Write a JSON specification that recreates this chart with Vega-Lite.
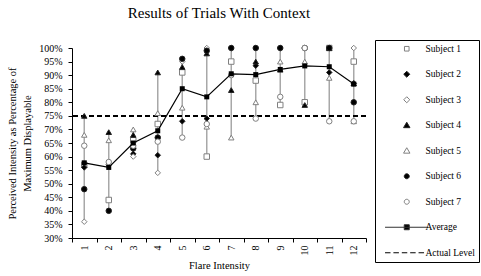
{
  "$schema": "https://vega.github.io/schema/vega-lite/v6.json",
  "width": 294,
  "height": 190,
  "autosize": "none",
  "padding": {"left": 72, "top": 48, "right": 115, "bottom": 38},
  "background": "white",
  "config": {"font": "Liberation Serif", "view": {"stroke": null}},
  "title": {"text": "Results of Trials With Context", "font": "Liberation Serif", "fontSize": 15, "fontWeight": "normal", "color": "black", "frame": "group", "anchor": "middle", "offset": 19},
  "data": {"values": [
    {"x":1,"s":"Subject 1","v":57},{"x":2,"s":"Subject 1","v":44},{"x":3,"s":"Subject 1","v":66},{"x":4,"s":"Subject 1","v":72},{"x":5,"s":"Subject 1","v":91},{"x":6,"s":"Subject 1","v":60},{"x":7,"s":"Subject 1","v":95},{"x":8,"s":"Subject 1","v":88},{"x":9,"s":"Subject 1","v":79},{"x":10,"s":"Subject 1","v":80},{"x":11,"s":"Subject 1","v":100},{"x":12,"s":"Subject 1","v":95},
    {"x":1,"s":"Subject 2","v":56},{"x":2,"s":"Subject 2","v":57},{"x":3,"s":"Subject 2","v":61},{"x":4,"s":"Subject 2","v":60.5},{"x":5,"s":"Subject 2","v":73},{"x":6,"s":"Subject 2","v":74},{"x":7,"s":"Subject 2","v":100},{"x":8,"s":"Subject 2","v":93.5},{"x":9,"s":"Subject 2","v":100},{"x":10,"s":"Subject 2","v":100},{"x":11,"s":"Subject 2","v":91},{"x":12,"s":"Subject 2","v":87},
    {"x":1,"s":"Subject 3","v":36},{"x":2,"s":"Subject 3","v":57},{"x":3,"s":"Subject 3","v":60},{"x":4,"s":"Subject 3","v":54},{"x":5,"s":"Subject 3","v":95},{"x":6,"s":"Subject 3","v":100},{"x":7,"s":"Subject 3","v":100},{"x":8,"s":"Subject 3","v":100},{"x":9,"s":"Subject 3","v":100},{"x":10,"s":"Subject 3","v":100},{"x":11,"s":"Subject 3","v":100},{"x":12,"s":"Subject 3","v":100},
    {"x":1,"s":"Subject 4","v":75},{"x":2,"s":"Subject 4","v":69},{"x":3,"s":"Subject 4","v":68},{"x":4,"s":"Subject 4","v":91},{"x":5,"s":"Subject 4","v":93},{"x":6,"s":"Subject 4","v":98},{"x":7,"s":"Subject 4","v":84.5},{"x":8,"s":"Subject 4","v":95},{"x":9,"s":"Subject 4","v":92},{"x":10,"s":"Subject 4","v":79},{"x":11,"s":"Subject 4","v":100},{"x":12,"s":"Subject 4","v":87},
    {"x":1,"s":"Subject 5","v":68},{"x":2,"s":"Subject 5","v":66},{"x":3,"s":"Subject 5","v":70},{"x":4,"s":"Subject 5","v":76},{"x":5,"s":"Subject 5","v":78},{"x":6,"s":"Subject 5","v":71},{"x":7,"s":"Subject 5","v":67},{"x":8,"s":"Subject 5","v":80},{"x":9,"s":"Subject 5","v":95},{"x":10,"s":"Subject 5","v":95},{"x":11,"s":"Subject 5","v":89},{"x":12,"s":"Subject 5","v":73},
    {"x":1,"s":"Subject 6","v":48},{"x":2,"s":"Subject 6","v":40},{"x":3,"s":"Subject 6","v":63},{"x":4,"s":"Subject 6","v":67},{"x":5,"s":"Subject 6","v":96},{"x":6,"s":"Subject 6","v":99},{"x":7,"s":"Subject 6","v":100},{"x":8,"s":"Subject 6","v":100},{"x":9,"s":"Subject 6","v":100},{"x":10,"s":"Subject 6","v":100},{"x":11,"s":"Subject 6","v":100},{"x":12,"s":"Subject 6","v":80},
    {"x":1,"s":"Subject 7","v":64},{"x":2,"s":"Subject 7","v":58},{"x":3,"s":"Subject 7","v":64},{"x":4,"s":"Subject 7","v":65.5},{"x":5,"s":"Subject 7","v":67},{"x":6,"s":"Subject 7","v":72},{"x":7,"s":"Subject 7","v":90},{"x":8,"s":"Subject 7","v":74},{"x":9,"s":"Subject 7","v":82},{"x":10,"s":"Subject 7","v":100},{"x":11,"s":"Subject 7","v":73},{"x":12,"s":"Subject 7","v":73},
    {"x":1,"s":"Average","v":57.7},{"x":2,"s":"Average","v":56},{"x":3,"s":"Average","v":65},{"x":4,"s":"Average","v":69.5},{"x":5,"s":"Average","v":85},{"x":6,"s":"Average","v":82},{"x":7,"s":"Average","v":90.5},{"x":8,"s":"Average","v":90.2},{"x":9,"s":"Average","v":92.1},{"x":10,"s":"Average","v":93.4},{"x":11,"s":"Average","v":93.1},{"x":12,"s":"Average","v":86.7}
  ]},
  "resolve": {"scale": {"shape": "independent", "fill": "independent", "stroke": "independent"}},
  "layer": [
    {
      "transform": [{"filter": "datum.s != 'Average'"}],
      "mark": {"type": "rule", "color": "#a8a8a8", "strokeWidth": 1.5},
      "encoding": {
        "x": {"field": "x", "type": "quantitative", "title": "Flare Intensity",
          "scale": {"domain": [0.5, 12.5], "nice": false, "zero": false},
          "axis": {"values": [0.5,1,1.5,2,2.5,3,3.5,4,4.5,5,5.5,6,6.5,7,7.5,8,8.5,9,9.5,10,10.5,11,11.5,12,12.5],
            "labelExpr": "datum.value % 1 == 0 ? '' + datum.value : ''",
            "tickOpacity": {"condition": {"test": "datum.value % 1 == 0", "value": 0}, "value": 1},
            "labelAngle": -90, "labelOverlap": false, "labelFlush": false, "grid": false,
            "tickSize": 4, "labelPadding": 3, "labelFontSize": 10, "labelFont": "Liberation Serif", "labelColor": "black",
            "domainColor": "black", "tickColor": "black",
            "titleFont": "Liberation Serif", "titleFontSize": 10.5, "titleFontWeight": "normal", "titleColor": "black", "titlePadding": 5}},
        "y": {"aggregate": "min", "field": "v", "type": "quantitative", "title": ["Perceived Intensity as Percentage of", "Maximum Displayable"],
          "scale": {"domain": [30, 100], "nice": false, "zero": false},
          "axis": {"values": [30,35,40,45,50,55,60,65,70,75,80,85,90,95,100],
            "labelExpr": "datum.value + '%'", "labelOverlap": false, "labelFlush": false, "grid": false, "tickSize": 4, "labelPadding": 6,
            "labelFontSize": 10, "labelFont": "Liberation Serif", "labelColor": "black",
            "domainColor": "black", "tickColor": "black",
            "titleFont": "Liberation Serif", "titleFontSize": 10.5, "titleFontWeight": "normal", "titleColor": "black", "titlePadding": 6, "titleLineHeight": 15}},
        "y2": {"aggregate": "max", "field": "v"}
      }
    },
    {
      "mark": {"type": "rule", "color": "black", "strokeWidth": 1, "strokeDash": [5, 3]},
      "encoding": {"y": {"datum": 75, "type": "quantitative", "title": ["Perceived Intensity as Percentage of", "Maximum Displayable"],
          "scale": {"domain": [30, 100], "nice": false, "zero": false},
          "axis": {"values": [30,35,40,45,50,55,60,65,70,75,80,85,90,95,100],
            "labelExpr": "datum.value + '%'", "labelOverlap": false, "labelFlush": false, "grid": false, "tickSize": 4, "labelPadding": 6,
            "labelFontSize": 10, "labelFont": "Liberation Serif", "labelColor": "black",
            "domainColor": "black", "tickColor": "black",
            "titleFont": "Liberation Serif", "titleFontSize": 10.5, "titleFontWeight": "normal", "titleColor": "black", "titlePadding": 6, "titleLineHeight": 15}}}
    },
    {
      "transform": [{"filter": "datum.s != 'Average'"}],
      "mark": {"type": "point", "filled": true, "opacity": 1, "size": 30, "strokeWidth": 1},
      "encoding": {
        "x": {"field": "x", "type": "quantitative", "title": "Flare Intensity",
          "scale": {"domain": [0.5, 12.5], "nice": false, "zero": false},
          "axis": {"values": [0.5,1,1.5,2,2.5,3,3.5,4,4.5,5,5.5,6,6.5,7,7.5,8,8.5,9,9.5,10,10.5,11,11.5,12,12.5],
            "labelExpr": "datum.value % 1 == 0 ? '' + datum.value : ''",
            "tickOpacity": {"condition": {"test": "datum.value % 1 == 0", "value": 0}, "value": 1},
            "labelAngle": -90, "labelOverlap": false, "labelFlush": false, "grid": false,
            "tickSize": 4, "labelPadding": 3, "labelFontSize": 10, "labelFont": "Liberation Serif", "labelColor": "black",
            "domainColor": "black", "tickColor": "black",
            "titleFont": "Liberation Serif", "titleFontSize": 10.5, "titleFontWeight": "normal", "titleColor": "black", "titlePadding": 5}},
        "y": {"field": "v", "type": "quantitative", "title": ["Perceived Intensity as Percentage of", "Maximum Displayable"],
          "scale": {"domain": [30, 100], "nice": false, "zero": false},
          "axis": {"values": [30,35,40,45,50,55,60,65,70,75,80,85,90,95,100],
            "labelExpr": "datum.value + '%'", "labelOverlap": false, "labelFlush": false, "grid": false, "tickSize": 4, "labelPadding": 6,
            "labelFontSize": 10, "labelFont": "Liberation Serif", "labelColor": "black",
            "domainColor": "black", "tickColor": "black",
            "titleFont": "Liberation Serif", "titleFontSize": 10.5, "titleFontWeight": "normal", "titleColor": "black", "titlePadding": 6, "titleLineHeight": 15}},
        "shape": {"field": "s", "type": "nominal", "legend": null,
          "scale": {"domain": ["Subject 1","Subject 2","Subject 3","Subject 4","Subject 5","Subject 6","Subject 7"],
            "range": ["square","diamond","diamond","triangle-up","triangle-up","circle","circle"]}},
        "fill": {"field": "s", "type": "nominal", "legend": null,
          "scale": {"domain": ["Subject 1","Subject 2","Subject 3","Subject 4","Subject 5","Subject 6","Subject 7"],
            "range": ["white","black","white","black","white","black","white"]}},
        "stroke": {"field": "s", "type": "nominal", "legend": null,
          "scale": {"domain": ["Subject 1","Subject 2","Subject 3","Subject 4","Subject 5","Subject 6","Subject 7"],
            "range": ["#808080","#222222","#808080","#222222","#808080","#222222","#808080"]}}
      }
    },
    {
      "transform": [{"filter": "datum.s == 'Average'"}],
      "mark": {"type": "line", "color": "black", "strokeWidth": 1.2},
      "encoding": {
        "x": {"field": "x", "type": "quantitative", "title": "Flare Intensity",
          "scale": {"domain": [0.5, 12.5], "nice": false, "zero": false},
          "axis": {"values": [0.5,1,1.5,2,2.5,3,3.5,4,4.5,5,5.5,6,6.5,7,7.5,8,8.5,9,9.5,10,10.5,11,11.5,12,12.5],
            "labelExpr": "datum.value % 1 == 0 ? '' + datum.value : ''",
            "tickOpacity": {"condition": {"test": "datum.value % 1 == 0", "value": 0}, "value": 1},
            "labelAngle": -90, "labelOverlap": false, "labelFlush": false, "grid": false,
            "tickSize": 4, "labelPadding": 3, "labelFontSize": 10, "labelFont": "Liberation Serif", "labelColor": "black",
            "domainColor": "black", "tickColor": "black",
            "titleFont": "Liberation Serif", "titleFontSize": 10.5, "titleFontWeight": "normal", "titleColor": "black", "titlePadding": 5}},
        "y": {"field": "v", "type": "quantitative", "title": ["Perceived Intensity as Percentage of", "Maximum Displayable"],
          "scale": {"domain": [30, 100], "nice": false, "zero": false},
          "axis": {"values": [30,35,40,45,50,55,60,65,70,75,80,85,90,95,100],
            "labelExpr": "datum.value + '%'", "labelOverlap": false, "labelFlush": false, "grid": false, "tickSize": 4, "labelPadding": 6,
            "labelFontSize": 10, "labelFont": "Liberation Serif", "labelColor": "black",
            "domainColor": "black", "tickColor": "black",
            "titleFont": "Liberation Serif", "titleFontSize": 10.5, "titleFontWeight": "normal", "titleColor": "black", "titlePadding": 6, "titleLineHeight": 15}}
      }
    },
    {
      "transform": [{"filter": "datum.s == 'Average'"}],
      "mark": {"type": "point", "shape": "square", "size": 25, "filled": true, "color": "black", "opacity": 1},
      "encoding": {
        "x": {"field": "x", "type": "quantitative", "title": "Flare Intensity",
          "scale": {"domain": [0.5, 12.5], "nice": false, "zero": false},
          "axis": {"values": [0.5,1,1.5,2,2.5,3,3.5,4,4.5,5,5.5,6,6.5,7,7.5,8,8.5,9,9.5,10,10.5,11,11.5,12,12.5],
            "labelExpr": "datum.value % 1 == 0 ? '' + datum.value : ''",
            "tickOpacity": {"condition": {"test": "datum.value % 1 == 0", "value": 0}, "value": 1},
            "labelAngle": -90, "labelOverlap": false, "labelFlush": false, "grid": false,
            "tickSize": 4, "labelPadding": 3, "labelFontSize": 10, "labelFont": "Liberation Serif", "labelColor": "black",
            "domainColor": "black", "tickColor": "black",
            "titleFont": "Liberation Serif", "titleFontSize": 10.5, "titleFontWeight": "normal", "titleColor": "black", "titlePadding": 5}},
        "y": {"field": "v", "type": "quantitative", "title": ["Perceived Intensity as Percentage of", "Maximum Displayable"],
          "scale": {"domain": [30, 100], "nice": false, "zero": false},
          "axis": {"values": [30,35,40,45,50,55,60,65,70,75,80,85,90,95,100],
            "labelExpr": "datum.value + '%'", "labelOverlap": false, "labelFlush": false, "grid": false, "tickSize": 4, "labelPadding": 6,
            "labelFontSize": 10, "labelFont": "Liberation Serif", "labelColor": "black",
            "domainColor": "black", "tickColor": "black",
            "titleFont": "Liberation Serif", "titleFontSize": 10.5, "titleFontWeight": "normal", "titleColor": "black", "titlePadding": 6, "titleLineHeight": 15}}
      }
    },
    {
      "transform": [{"filter": "datum.v < 0"}],
      "mark": {"type": "point", "filled": true, "opacity": 1, "size": 30, "strokeWidth": 1},
      "encoding": {
        "shape": {"field": "s", "type": "nominal",
          "scale": {"domain": ["Subject 1","Subject 2","Subject 3","Subject 4","Subject 5","Subject 6","Subject 7","Average","Actual Level"],
            "range": ["M7.56,-0.84H9.24V0.84H7.56Z","M8.4,-1.1L9.5,0L8.4,1.1L7.3,0Z","M8.4,-1.1L9.5,0L8.4,1.1L7.3,0Z","M8.4,-1.1L9.57,0.88L7.23,0.88Z","M8.4,-1.1L9.57,0.88L7.23,0.88Z","M9.31,0A0.91,0.91,0,1,1,7.49,0A0.91,0.91,0,1,1,9.31,0Z","M9.31,0A0.91,0.91,0,1,1,7.49,0A0.91,0.91,0,1,1,9.31,0Z","M0.47,0H16.2M7.49,-0.91H9.31V0.91H7.49Z","M0.47,0H2.47M3.53,0H5.53M6.59,0H8.59M9.65,0H11.65M12.71,0H14.71"]},
          "legend": {"title": null, "orient": "none", "legendX": 303, "legendY": -8, "symbolSize": 30, "symbolStrokeWidth": 1, "labelFont": "Liberation Serif", "labelFontSize": 9.5, "labelColor": "black", "labelOffset": 37, "rowPadding": 14.5, "padding": 4, "strokeColor": "black", "fillColor": "white"}},
        "fill": {"field": "s", "type": "nominal",
          "scale": {"domain": ["Subject 1","Subject 2","Subject 3","Subject 4","Subject 5","Subject 6","Subject 7","Average","Actual Level"],
            "range": ["white","black","white","black","white","black","white","black","white"]},
          "legend": {"title": null, "orient": "none", "legendX": 303, "legendY": -8, "symbolSize": 30, "symbolStrokeWidth": 1, "labelFont": "Liberation Serif", "labelFontSize": 9.5, "labelColor": "black", "labelOffset": 37, "rowPadding": 14.5, "padding": 4, "strokeColor": "black", "fillColor": "white"}},
        "stroke": {"field": "s", "type": "nominal",
          "scale": {"domain": ["Subject 1","Subject 2","Subject 3","Subject 4","Subject 5","Subject 6","Subject 7","Average","Actual Level"],
            "range": ["#808080","#222222","#808080","#222222","#808080","#222222","#808080","#333333","black"]},
          "legend": {"title": null, "orient": "none", "legendX": 303, "legendY": -8, "symbolSize": 30, "symbolStrokeWidth": 1, "labelFont": "Liberation Serif", "labelFontSize": 9.5, "labelColor": "black", "labelOffset": 37, "rowPadding": 14.5, "padding": 4, "strokeColor": "black", "fillColor": "white"}}
      }
    }
  ]
}
